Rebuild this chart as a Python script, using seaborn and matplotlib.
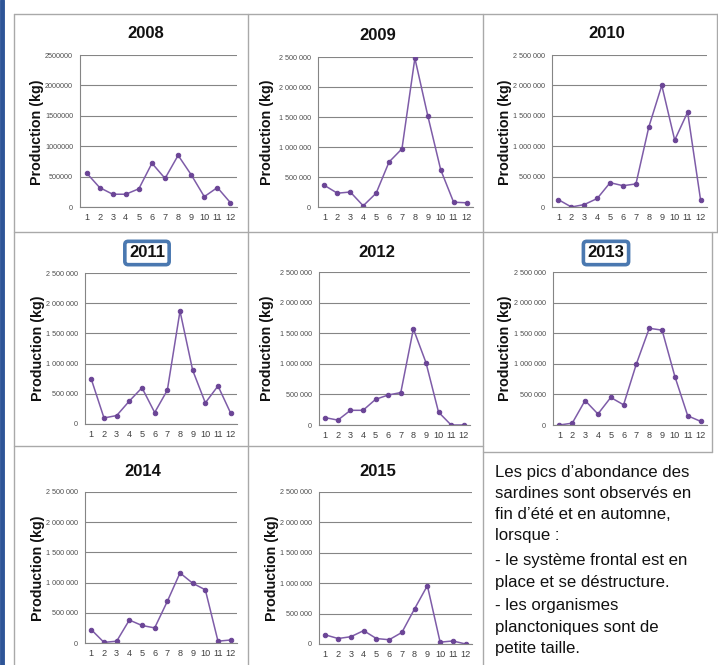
import numpy as np
import pandas as pd
import matplotlib
matplotlib.use('Agg')
import matplotlib.pyplot as plt
from matplotlib.lines import Line2D
from matplotlib.ticker import FuncFormatter, FixedLocator
import seaborn as sns

# Monthly sardine production (kg)
months = list(range(1, 13))
years = [2008, 2009, 2010, 2011, 2012, 2013, 2014, 2015]
prod_2008 = [560000, 320000, 210000, 210000, 300000, 720000, 470000, 850000, 530000, 170000, 320000, 70000]
prod_2009 = [360000, 230000, 250000, 20000, 230000, 750000, 970000, 2480000, 1520000, 620000, 80000, 70000]
prod_2010 = [120000, 0, 40000, 140000, 400000, 350000, 380000, 1320000, 2000000, 1100000, 1560000, 120000]
prod_2011 = [740000, 100000, 140000, 380000, 600000, 190000, 560000, 1870000, 890000, 350000, 630000, 180000]
prod_2012 = [120000, 80000, 240000, 240000, 420000, 490000, 530000, 1570000, 1020000, 210000, 0, 0]
prod_2013 = [0, 30000, 400000, 180000, 450000, 330000, 1000000, 1580000, 1550000, 790000, 150000, 60000]
prod_2014 = [220000, 10000, 30000, 380000, 290000, 250000, 690000, 1160000, 990000, 880000, 30000, 50000]
prod_2015 = [150000, 90000, 120000, 220000, 90000, 70000, 190000, 580000, 960000, 30000, 50000, 0]
series = [prod_2008, prod_2009, prod_2010, prod_2011, prod_2012, prod_2013, prod_2014, prod_2015]
y_ticks = [0, 500000, 1000000, 1500000, 2000000, 2500000]
boxed_years = [2011, 2013]

df = pd.DataFrame({
    'year': np.repeat(years, 12),
    'month': months * len(years),
    'production': np.concatenate(series),
})

text_lines = [
    "Les pics d\u2019abondance des",
    "sardines sont observ\u00e9s en",
    "fin d\u2019\u00e9t\u00e9 et en automne,",
    "lorsque :",
    "- le syst\u00e8me frontal est en",
    "place et se d\u00e9structure.",
    "- les organismes",
    "planctoniques sont de",
    "petite taille.",
]

W, H = 718, 665
sns.set_style('white')
plt.rcParams['font.family'] = ['Liberation Sans', 'DejaVu Sans']
fig = plt.figure(figsize=(W / 100, H / 100), dpi=100)


def fx(x):
    return x / W


def fy(y):
    return 1 - y / H


# layout in pixels: axes box (left, top, right, bottom), title pos, ylabel pos
layout = {
    2008: ((80, 55, 237, 207), (146, 33), (37, 132)),
    2009: ((318, 57, 473, 207), (378, 35), (267, 132)),
    2010: ((552, 55, 707, 207), (607, 33), (505, 132)),
    2011: ((85, 273, 237, 424), (147, 253), (38, 348)),
    2012: ((319, 272, 470, 425), (377, 253), (267, 348)),
    2013: ((553, 272, 707, 425), (606, 253), (505, 348)),
    2014: ((85, 492, 237, 643), (143, 472), (38, 568)),
    2015: ((319, 492, 472, 644), (378, 472), (272, 568)),
}

line_col = '#7E5CA8'
grid_col = '#858585'

for yr in years:
    (l, t, r, b), (tx, ty), (lx, ly) = layout[yr]
    ax = fig.add_axes([fx(l), fy(b), (r - l) / W, (b - t) / H])
    sub = df[df['year'] == yr]
    sns.lineplot(data=sub, x='month', y='production', ax=ax, color=line_col,
                 linewidth=1.1, marker='o', markersize=3.2,
                 markeredgecolor='#6B4596', markerfacecolor='#6B4596')
    ax.set_xlim(0.5, 12.5)
    ax.set_ylim(0, 2500000)
    ax.set_yticks(y_ticks)
    if yr == 2008:
        ax.yaxis.set_major_formatter(FuncFormatter(lambda v, p: f"{v:.0f}"))
    else:
        ax.yaxis.set_major_formatter(FuncFormatter(lambda v, p: f"{v:,.0f}".replace(',', ' ')))
    ax.set_xticks(months)
    ax.xaxis.set_minor_locator(FixedLocator(np.arange(0.5, 13, 1)))
    ax.tick_params(axis='x', which='major', length=0, labelsize=6.6, labelcolor='#404040', pad=4)
    ax.tick_params(axis='x', which='minor', length=3, color=grid_col, width=0.8, direction='out')
    ax.tick_params(axis='y', which='major', length=3, color=grid_col, width=0.8,
                   labelsize=5.2, labelcolor='#505050', pad=2, direction='out')
    ax.grid(axis='y', color=grid_col, linewidth=0.8)
    ax.grid(axis='x', visible=False)
    ax.set_axisbelow(True)
    for s in ['top', 'right']:
        ax.spines[s].set_visible(False)
    for s in ['left', 'bottom']:
        ax.spines[s].set_color(grid_col)
        ax.spines[s].set_linewidth(0.8)
    ax.set_xlabel('')
    ax.set_ylabel('')
    ax.patch.set_alpha(0)

    bbox = None
    if yr in boxed_years:
        bbox = dict(boxstyle='round,pad=0.25,rounding_size=0.2', facecolor='white',
                    edgecolor='#4A78B0', linewidth=2.6)
    fig.text(fx(tx), fy(ty), str(yr), ha='center', va='center', fontsize=12,
             fontweight='bold', color='#111111', bbox=bbox)
    fig.text(fx(lx), fy(ly), 'Production (kg)', ha='center', va='center', rotation=90,
             fontsize=10.3, fontweight='bold', color='#111111')

# panel borders
border = '#A9A9A9'
segments = [
    ((14, 14), (718, 14)),
    ((14, 232), (718, 232)),
    ((14, 446), (483, 446)),
    ((483, 452), (712, 452)),
    ((712, 232), (712, 452)),
    ((14, 14), (14, 665)),
    ((248, 14), (248, 665)),
    ((483, 14), (483, 665)),
    ((717, 14), (717, 232)),
]
for (x0, y0), (x1, y1) in segments:
    fig.add_artist(Line2D([fx(x0), fx(x1)], [fy(y0), fy(y1)], color=border, linewidth=1.0))

# dark blue bar on the left edge
fig.add_artist(Line2D([fx(2), fx(2)], [0, 1], color='#2E5597', linewidth=3.5))

# commentary text
baselines = [477, 498, 519, 540, 565, 587, 610, 632, 653]
for line, yb in zip(text_lines, baselines):
    fig.text(fx(495), fy(yb), line, ha='left', va='baseline', fontsize=12.1, color='#111111')

fig.savefig('out.png', dpi=100)
